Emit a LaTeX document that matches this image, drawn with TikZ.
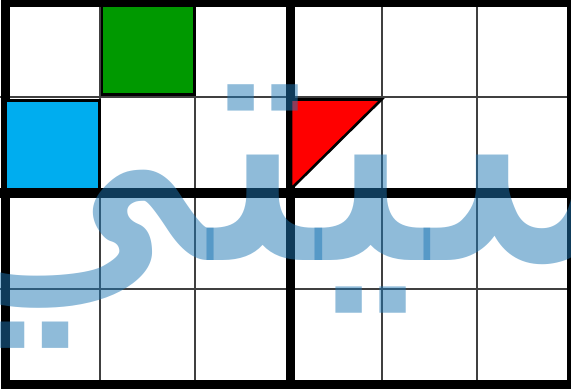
\documentclass[tikz,border=0pt]{standalone}
\usepackage{fontspec}
\newfontfamily\arabicfont[Script=Arabic]{DejaVu Sans}
\TeXXeTstate=1
\definecolor{inkblue}{RGB}{31,119,180}
\begin{document}
\begin{tikzpicture}[
    x=1pt, y=-1pt,
    thinline/.style={line width=1.6pt, draw=black!75},
    thickline/.style={line width=9.5pt, draw=black},
    tile/.style={draw=black, line width=2.6pt, line join=miter},
    script/.style={text=inkblue, text opacity=0.5, inner sep=0pt,
      font=\arabicfont\fontsize{360}{380}\selectfont}
  ]
  \useasboundingbox (0,0) rectangle (571,389);
  \clip (0,0) rectangle (571,389);

  % grid
  \foreach \x in {100,195,382,477} \draw[thinline] (\x,0) -- (\x,389);
  \foreach \y in {97,289} \draw[thinline] (0,\y) -- (571,\y);
  \draw[thickline] (5.5,2.5) rectangle (572,384.5);
  \draw[thickline] (290.5,0) -- (290.5,389);
  \draw[thickline] (0,193) -- (571,193);

  % tiles
  \draw[tile, fill=green!60!black] (102,5.5) rectangle (194.5,94.5);
  \draw[tile, fill=cyan] (5.5,100.5) rectangle (99.5,189);
  \draw[tile, fill=red] (291,99.5) -- (381.5,99.5) -- (291,189) -- cycle;

  % word
  \node[script, anchor=base west] (word) at (-90,260) {\beginR سيتي\endR};
\end{tikzpicture}
\end{document}
